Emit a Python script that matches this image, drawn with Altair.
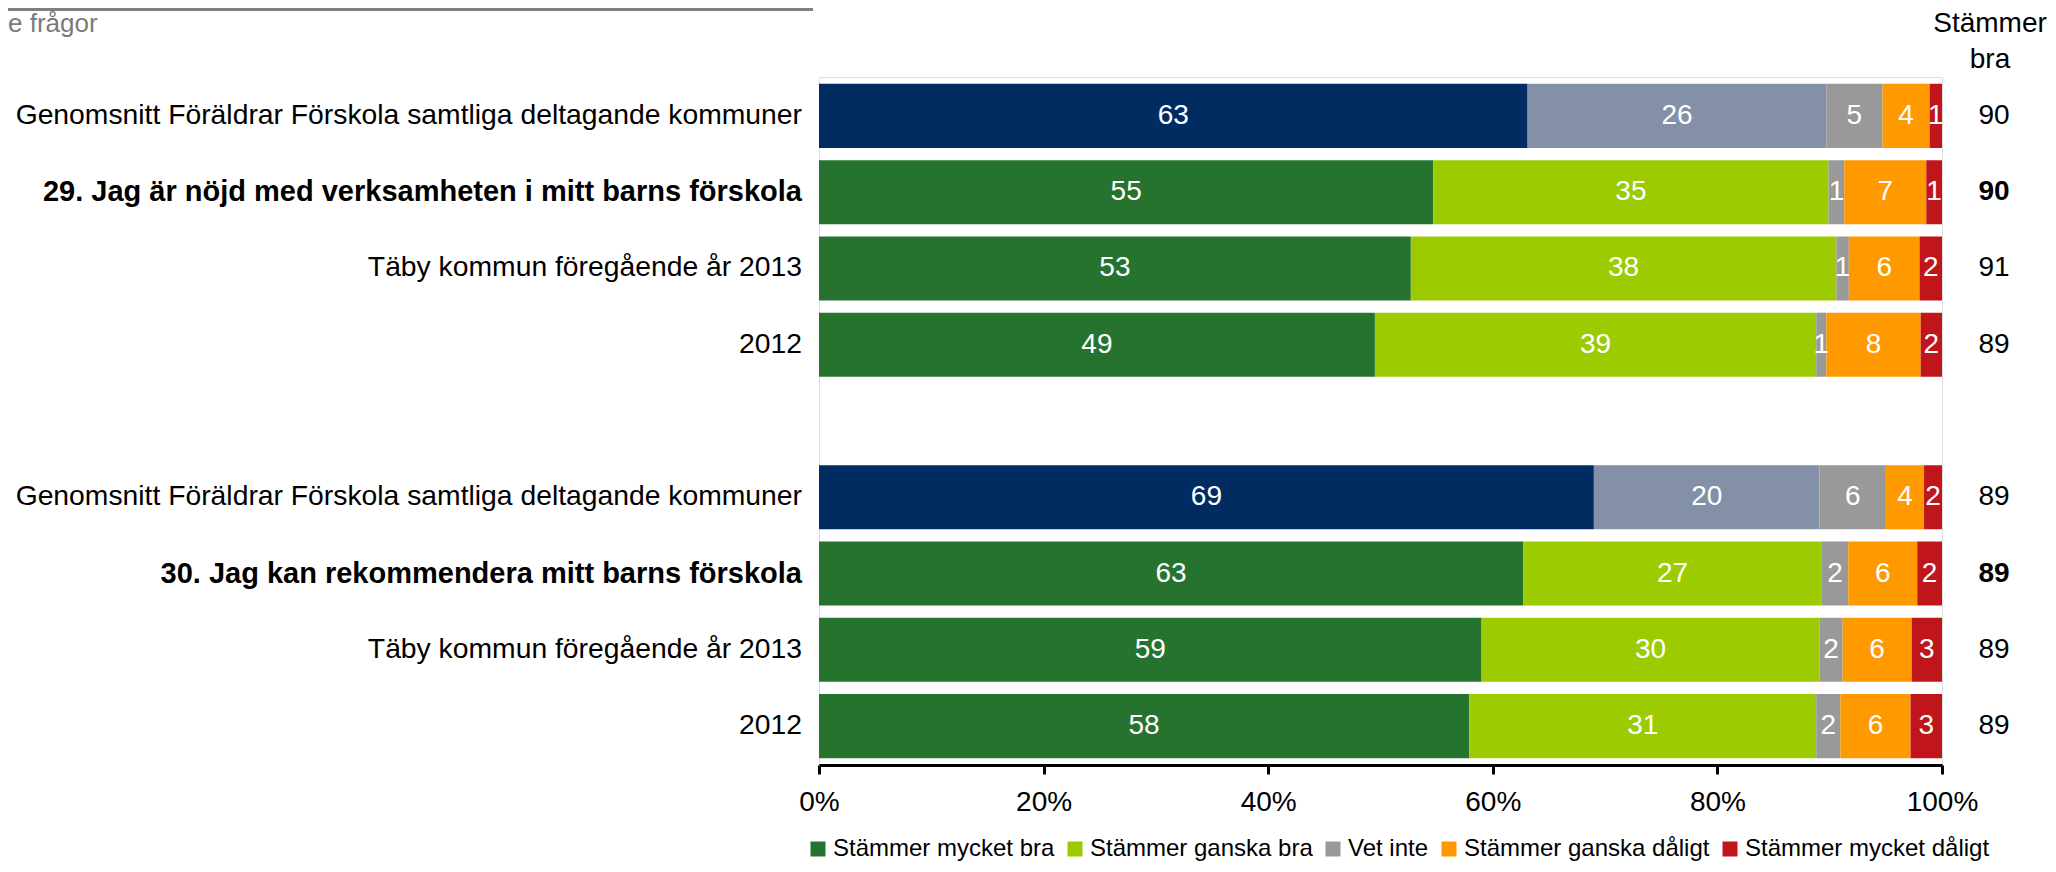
import altair as alt
import pandas as pd

# ---------------- data ----------------
row_labels = [
    "Genomsnitt Föräldrar Förskola samtliga deltagande kommuner",
    "29. Jag är nöjd med verksamheten i mitt barns förskola",
    "Täby kommun föregående år 2013",
    "2012",
    "Genomsnitt Föräldrar Förskola samtliga deltagande kommuner",
    "30. Jag kan rekommendera mitt barns förskola",
    "Täby kommun föregående år 2013",
    "2012",
]
row_bold = [False, True, False, False, False, True, False, False]
row_avg = [True, False, False, False, True, False, False, False]

categories = ["Stämmer mycket bra", "Stämmer ganska bra", "Vet inte",
              "Stämmer ganska dåligt", "Stämmer mycket dåligt"]
avg_categories = ["Genomsnitt: Stämmer mycket bra", "Genomsnitt: Stämmer ganska bra"]

# segment widths (percent)
mycket_bra = [63.1, 54.7, 52.7, 49.5, 69.0, 62.7, 59.0, 57.9]
ganska_bra = [26.6, 35.2, 37.9, 39.3, 20.1, 26.6, 30.1, 30.9]
vet_inte = [5.0, 1.4, 1.1, 0.9, 5.9, 2.35, 2.05, 2.15]
ganska_daligt = [4.2, 7.3, 6.3, 8.4, 3.4, 6.15, 6.15, 6.25]
mycket_daligt = [1.1, 1.4, 2.0, 1.9, 1.6, 2.2, 2.7, 2.8]

# printed labels inside the segments
lab_mycket_bra = [63, 55, 53, 49, 69, 63, 59, 58]
lab_ganska_bra = [26, 35, 38, 39, 20, 27, 30, 31]
lab_vet_inte = [5, 1, 1, 1, 6, 2, 2, 2]
lab_ganska_daligt = [4, 7, 6, 8, 4, 6, 6, 6]
lab_mycket_daligt = [1, 1, 2, 2, 2, 2, 3, 3]

stammer_bra = [90, 90, 91, 89, 89, 89, 89, 89]

colors = ["#267330", "#9bcb00", "#999999", "#ff9900", "#c0161b", "#002c62", "#848fa8"]

# ---------------- build tables ----------------
row_ids = [f"r{i}" for i in range(len(row_labels))]
y_domain = row_ids[:4] + ["gap"] + row_ids[4:]

widths = [mycket_bra, ganska_bra, vet_inte, ganska_daligt, mycket_daligt]
labels = [lab_mycket_bra, lab_ganska_bra, lab_vet_inte, lab_ganska_daligt, lab_mycket_daligt]

recs = []
for i, rid in enumerate(row_ids):
    start = 0.0
    for k, cat in enumerate(categories):
        w = widths[k][i]
        key = avg_categories[k] if (row_avg[i] and k < 2) else cat
        recs.append({"row": rid, "cat": key, "start": start, "end": start + w,
                     "mid": start + w / 2, "label": str(labels[k][i])})
        start += w
seg_df = pd.DataFrame(recs)

rows_df = pd.DataFrame({"row": row_ids, "text": row_labels, "bold": row_bold,
                        "bra": [str(v) for v in stammer_bra]})

FONT = "Liberation Sans"
W, H = 1123, 688

yenc = alt.Y("row:N", scale=alt.Scale(domain=y_domain, paddingInner=0.16, paddingOuter=0.09), axis=None)

bars = alt.Chart(seg_df).mark_bar().encode(
    x=alt.X("start:Q", scale=alt.Scale(domain=[0, 100], nice=False),
            axis=alt.Axis(values=[0, 20, 40, 60, 80, 100], labelExpr="datum.value + '%'",
                          grid=False, domainColor="black", domainWidth=3, tickColor="black",
                          tickWidth=3, tickSize=9, labelFontSize=28, labelFont=FONT,
                          labelColor="black", labelPadding=14, labelFlush=False,
                          labelOverlap=False, title=None)),
    x2="end:Q",
    y=yenc,
    color=alt.Color("cat:N",
                    scale=alt.Scale(domain=categories + avg_categories, range=colors),
                    legend=alt.Legend(values=categories, orient="none", legendX=-13, legendY=760,
                                      direction="horizontal", columns=5, title=None,
                                      symbolType="square", symbolSize=225, symbolStrokeWidth=0,
                                      symbolOpacity=1, labelFontSize=24, labelFont=FONT,
                                      labelColor="black", columnPadding=8, labelOffset=3,
                                      labelLimit=400)),
)

seg_text = alt.Chart(seg_df).mark_text(color="white", fontSize=28, font=FONT,
                                       baseline="middle", align="center").encode(
    x="mid:Q", y=yenc, text="label:N")

left_norm = alt.Chart(rows_df).transform_filter("!datum.bold").mark_text(
    align="right", baseline="middle", fontSize=28.3, font=FONT, color="black").encode(
    x=alt.value(-17), y=yenc, text="text:N")
left_bold = alt.Chart(rows_df).transform_filter("datum.bold").mark_text(
    align="right", baseline="middle", fontSize=29, font=FONT, color="black", fontWeight="bold").encode(
    x=alt.value(-17), y=yenc, text="text:N")

right_norm = alt.Chart(rows_df).transform_filter("!datum.bold").mark_text(
    align="center", baseline="middle", fontSize=28, font=FONT, color="black").encode(
    x=alt.value(W + 52), y=yenc, text="bra:N")
right_bold = alt.Chart(rows_df).transform_filter("datum.bold").mark_text(
    align="center", baseline="middle", fontSize=28, font=FONT, color="black", fontWeight="bold").encode(
    x=alt.value(W + 52), y=yenc, text="bra:N")

header_df = pd.DataFrame({"t": ["Stämmer\nbra"]})
header = alt.Chart(header_df).mark_text(
    align="center", baseline="middle", fontSize=28, font=FONT, color="black",
    lineBreak="\n", lineHeight=36).encode(
    x=alt.value(W + 48), y=alt.value(-53), text="t:N")

top_df = pd.DataFrame({"t": ["e frågor"]})
top_rule = alt.Chart(top_df).mark_rule(color="#808080", strokeWidth=3).encode(
    x=alt.value(-811), x2=alt.value(-6), y=alt.value(-67.5))
top_text = alt.Chart(top_df).mark_text(
    align="left", baseline="middle", fontSize=26, font=FONT, color="#7a7a7a").encode(
    x=alt.value(-811), y=alt.value(-53), text="t:N")

chart = alt.layer(bars, seg_text, left_norm, left_bold, right_norm, right_bold,
                  header, top_rule, top_text).properties(
    width=W, height=H,
    autosize=alt.AutoSizeParams(type="none"),
    padding={"left": 811, "top": 69, "right": 106, "bottom": 99},
).configure_view(stroke="#c9d0dd", strokeWidth=3).configure(font=FONT)

chart.save("out.html", embed_options={"renderer": "svg", "actions": False})
